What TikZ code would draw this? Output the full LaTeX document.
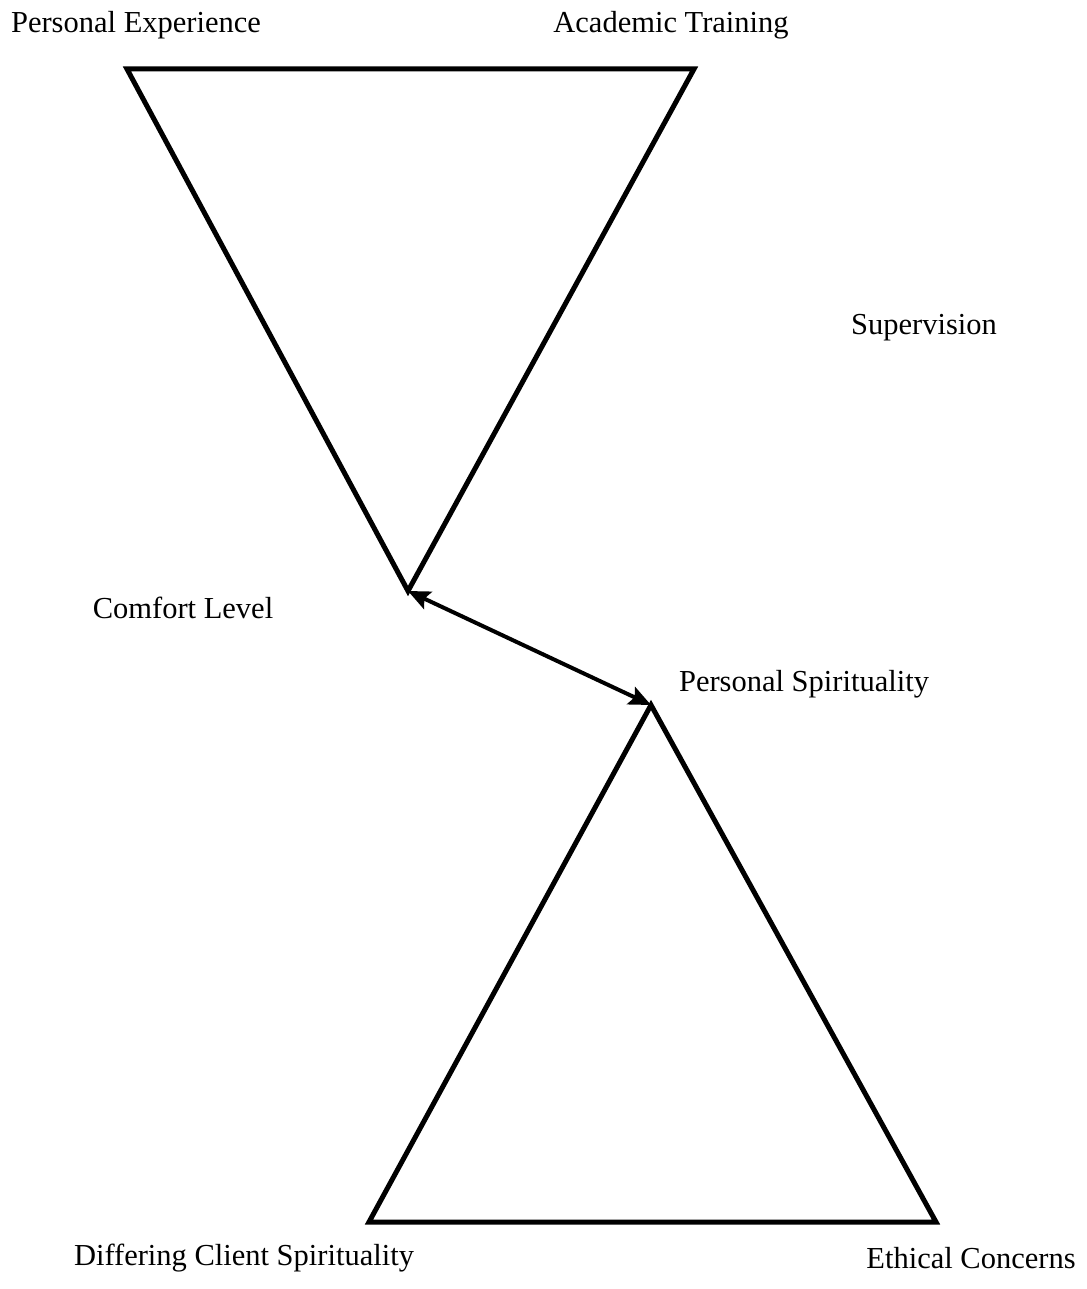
\documentclass[tikz,border=0pt]{standalone}
\usepackage{fontspec}
\setmainfont{Liberation Serif}
\usetikzlibrary{arrows.meta}
\begin{document}
\begin{tikzpicture}[x=1pt,y=-1pt,
  lbl/.style={font=\fontsize{30.5}{34}\selectfont, inner sep=0pt, anchor=center},
  tri/.style={line width=5pt, line join=miter},
  link/.style={line width=4pt, {Stealth[length=22pt,width=19pt,inset=4pt]}-{Stealth[length=22pt,width=19pt,inset=4pt]}}]
\useasboundingbox (0,0) rectangle (1086,1289);
% vertices
\coordinate (tl) at (127,69);
\coordinate (tr) at (694,69);
\coordinate (ta) at (408,591);
\coordinate (ba) at (651,705);
\coordinate (bl) at (369,1222);
\coordinate (br) at (936,1222);
% triangles
\draw[tri] (tl) -- (tr) -- (ta) -- cycle;
\draw[tri] (ba) -- (br) -- (bl) -- cycle;
% arrow
\draw[link] (ta) -- (ba);
% labels
\node[lbl] (pe) at (136,25) {Personal Experience};
\node[lbl] (at) at (671,25) {Academic Training};
\node[lbl] (sup) at (924,328) {Supervision};
\node[lbl] (cl) at (183,608) {Comfort Level};
\node[lbl] (ps) at (804,684) {Personal Spirituality};
\node[lbl] (dcs) at (244,1258) {Differing Client Spirituality};
\node[lbl] (ec) at (971,1258) {Ethical Concerns};
\end{tikzpicture}
\end{document}
